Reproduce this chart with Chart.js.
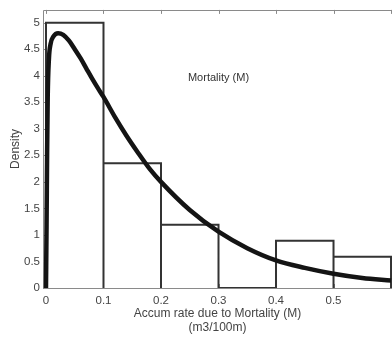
<!DOCTYPE html>
<html>
<head>
<meta charset="utf-8">
<script src="https://cdn.jsdelivr.net/npm/chart.js@4.4.1/dist/chart.umd.min.js"></script>
<style>
  html, body { margin: 0; padding: 0; background: #ffffff; }
  #wrap { width: 392px; height: 342px; position: relative; }
</style>
</head>
<body>
<div id="wrap"><canvas id="chart"></canvas></div>
<script>
// Histogram of accumulation rate due to mortality, with fitted density curve
const binEdges = [0, 0.1, 0.2, 0.3, 0.4, 0.5, 0.6];
const binDensity = [5.0, 2.35, 1.19, 0, 0.89, 0.59];

const fitX = [0, 0.001, 0.002, 0.003, 0.005, 0.008, 0.013, 0.021, 0.03, 0.04, 0.05, 0.06, 0.07, 0.08, 0.09, 0.1,
              0.12, 0.14, 0.16, 0.18, 0.2, 0.25, 0.3, 0.35, 0.4, 0.45, 0.5, 0.55, 0.6];
const fitY = [0, 1.2, 2.6, 3.6, 4.3, 4.6, 4.74, 4.80, 4.77, 4.66, 4.50, 4.33, 4.14, 3.95, 3.77, 3.60,
              3.22, 2.87, 2.55, 2.25, 2.00, 1.47, 1.06, 0.75, 0.52, 0.38, 0.27, 0.19, 0.14];

const xTickValues = [0, 0.1, 0.2, 0.3, 0.4, 0.5];
const yTickValues = [0, 0.5, 1, 1.5, 2, 2.5, 3, 3.5, 4, 4.5, 5];

const panelLabel = 'Mortality (M)';
const xTitle = ['Accum rate due to Mortality (M)', '(m3/100m)'];
const yTitle = 'Density';

// Stair outline of the histogram bins
const histOutline = [];
for (let i = 0; i < binDensity.length; i++) {
  histOutline.push({ x: binEdges[i], y: 0 });
  histOutline.push({ x: binEdges[i], y: binDensity[i] });
  histOutline.push({ x: binEdges[i + 1], y: binDensity[i] });
  histOutline.push({ x: binEdges[i + 1], y: 0 });
}
const fitPoints = fitX.map((x, i) => ({ x: x, y: fitY[i] }));

const AXIS_COLOR = '#8a8a8a';
const TEXT_COLOR = '#444444';
const FONT = 'Liberation Sans, Arial, Helvetica, sans-serif';

// Axes box with inward tick marks and the in-plot label
const boxPlugin = {
  id: 'boxTicks',
  beforeDatasetsDraw(chart) {
    const { ctx, chartArea: a, scales: { x, y } } = chart;
    ctx.save();
    ctx.strokeStyle = AXIS_COLOR;
    ctx.lineWidth = 1;
    ctx.beginPath();
    ctx.rect(Math.round(a.left) + 0.5, Math.round(a.top) + 0.5,
             Math.round(a.right - a.left), Math.round(a.bottom - a.top));
    ctx.stroke();
    const tl = 4;
    ctx.beginPath();
    xTickValues.concat([0.6]).forEach(v => {
      const px = Math.round(x.getPixelForValue(v)) + 0.5;
      ctx.moveTo(px, a.top); ctx.lineTo(px, a.top + tl);
      ctx.moveTo(px, a.bottom); ctx.lineTo(px, a.bottom - tl);
    });
    yTickValues.forEach(v => {
      const py = Math.round(y.getPixelForValue(v)) + 0.5;
      ctx.moveTo(a.left, py); ctx.lineTo(a.left + tl, py);
    });
    ctx.stroke();
    ctx.restore();
  },
  afterDraw(chart) {
    const { ctx, scales: { x, y } } = chart;
    const o = chart.options.plugins.boxTicks;
    ctx.save();
    ctx.fillStyle = '#333333';
    ctx.font = '11px ' + FONT;
    ctx.textAlign = 'center';
    ctx.textBaseline = 'middle';
    ctx.fillText(panelLabel, x.getPixelForValue(o.labelX), y.getPixelForValue(o.labelY));
    ctx.restore();
  }
};

new Chart(document.getElementById('chart'), {
  type: 'line',
  data: {
    datasets: [
      {
        label: 'fit',
        data: fitPoints,
        borderColor: '#141414',
        borderWidth: 4.5,
        pointRadius: 0,
        cubicInterpolationMode: 'monotone',
        fill: false,
        order: 0
      },
      {
        label: 'histogram',
        data: histOutline,
        borderColor: '#333333',
        borderWidth: 2,
        pointRadius: 0,
        tension: 0,
        borderJoinStyle: 'miter',
        fill: false,
        order: 1
      }
    ]
  },
  options: {
    responsive: true,
    maintainAspectRatio: false,
    animation: false,
    devicePixelRatio: 1,
    layout: { padding: { top: 9, right: 0, bottom: 0, left: 0 } },
    plugins: {
      legend: { display: false },
      tooltip: { enabled: false },
      boxTicks: { labelX: 0.3, labelY: 3.95 }
    },
    scales: {
      x: {
        type: 'linear',
        min: -0.0052,
        max: 0.6017,
        border: { display: false },
        grid: { display: false, drawTicks: false },
        afterBuildTicks: s => { s.ticks = xTickValues.map(v => ({ value: v })); },
        afterFit: s => { s.height = 54; },
        ticks: {
          padding: 6,
          color: TEXT_COLOR,
          font: { family: FONT, size: 11.5 },
          maxRotation: 0,
          callback: v => String(v)
        },
        title: {
          display: true,
          text: xTitle,
          color: TEXT_COLOR,
          font: { family: FONT, size: 12, lineHeight: 1.2 },
          padding: { top: 0, bottom: 7 }
        }
      },
      y: {
        type: 'linear',
        min: 0,
        max: 5.24,
        border: { display: false },
        grid: { display: false, drawTicks: false },
        afterBuildTicks: s => { s.ticks = yTickValues.map(v => ({ value: v })); },
        afterFit: s => { s.width = 43; },
        ticks: {
          padding: 3,
          color: TEXT_COLOR,
          font: { family: FONT, size: 11.5 },
          callback: v => String(v)
        },
        title: {
          display: true,
          text: yTitle,
          color: TEXT_COLOR,
          font: { family: FONT, size: 12, lineHeight: 1.2 },
          padding: { top: 8, bottom: 0 }
        }
      }
    }
  },
  plugins: [boxPlugin]
});
</script>
</body>
</html>
